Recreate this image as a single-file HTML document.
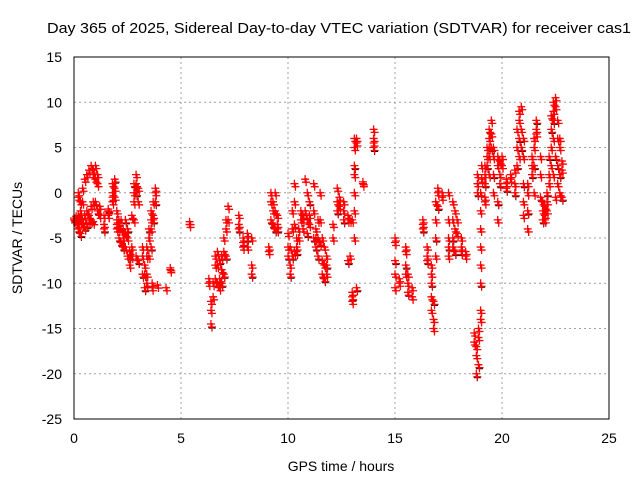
<!DOCTYPE html>
<html><head><meta charset="utf-8"><style>
body{margin:0;background:#fff;width:640px;height:480px;overflow:hidden}
svg{display:block;font-family:"Liberation Sans",sans-serif}
</style></head><body>
<svg id="chart" width="640" height="480">
<text x="339" y="33" text-anchor="middle" font-size="15" textLength="584" lengthAdjust="spacingAndGlyphs">Day 365 of 2025, Sidereal Day-to-day VTEC variation (SDTVAR) for receiver cas1</text>
<text x="341" y="471" text-anchor="middle" font-size="14">GPS time / hours</text>
<text transform="translate(22,238) rotate(-90)" text-anchor="middle" font-size="14">SDTVAR / TECUs</text>
<g id="grid"></g>
<g id="ticks"></g>
<g id="pts"></g>
<rect x="74" y="57" width="535" height="362" fill="none" stroke="#000" stroke-width="1"/>
</svg>
<script>
const xTicks=[0,5,10,15,20,25];
const yTicks=[15,10,5,0,-5,-10,-15,-20,-25];
const times=[0,0.1,0.2,0.3,0.4,0.5,0.6,0.7,0.8,0.9,1.0,1.1,1.2,1.4,1.6,1.8,1.9,2.0,2.1,2.2,2.3,2.4,2.5,2.6,2.7,2.8,2.9,3.0,3.2,3.3,3.4,3.5,3.6,3.7,3.8,3.65,3.9,4.3,4.5,5.4,6.3,6.4,6.5,6.6,6.7,6.8,6.9,7.0,7.1,7.2,7.7,7.9,8.1,8.3,9.1,9.2,9.3,9.4,9.5,10.0,10.1,10.2,10.3,10.4,10.5,10.6,10.7,10.8,10.9,11.0,11.2,11.3,11.4,11.5,11.6,11.7,11.8,12.1,12.3,12.4,12.6,12.8,12.9,13.0,13.1,13.2,13.5,14.0,15.0,15.2,15.5,15.6,15.8,16.3,16.5,16.7,16.8,16.9,17.0,17.2,17.5,17.7,17.8,17.9,18.1,18.3,18.7,18.8,18.9,19.0,18.85,19.05,19.2,19.3,19.4,19.5,19.6,19.8,19.9,20.0,20.2,20.4,20.6,20.7,20.8,20.9,21.0,21.2,21.4,21.5,21.6,21.8,21.9,22.0,22.1,22.2,22.3,22.4,22.5,22.6,22.7,22.8];
const values=[[-3,-2.8],[-3.2,-2.6],[-2.5,-3.5,-4,0,-0.5],[-1,-3,-4.5,-2],[0.5,-1,-3,-3.5],[1.5,-2.5,-3.8],[2,-2,-3.5],[2.5,-2.5,-3],[3,-1.5,-3],[2.5,2,-1,-3.2],[3,1.5,-1],[2,1,-2],[-1.5,-2.5],[-3.5,-2.5,-4],[-2.5,-2,-1.8],[-1,0,-0.5,1],[0.5,-0.5,1.5],[-2,-3,-3.5,-4],[-3,-4,-5],[-3,-4,-5.5],[-4,-5,-6],[-4.5,-6,-3],[-7,-5,-4],[-8,-6.5,-7],[-7,-6,-2.5],[0,-1,1,-3],[2,1,0,-7],[0.5,-1,-7.5],[-6,-7,-9],[-8,-9,-10.5],[-7,-9,-10,-6],[-5,-7,-4],[-3,-4,-6,-2],[-1,-2.5,-3],[0,0.5,-1],[-10,-10.5],[-10.2],[-10.5],[-8.3,-8.5],[-3.2,-3.5],[-9.5,-10],[-12,-13,-14.5],[-10,-11.5],[-7,-8,-9.5],[-6.5,-8,-10],[-9.5,-10.5,-7.5],[-7,-8.5,-10],[-5,-6.5,-9],[-3,-4,-7],[-1.5,-3],[-2.5,-3.5,-4],[-6,-5,-5.5],[-6,-4.5,-5],[-5,-8,-9],[-6.5,-6],[0,-1,-3],[-1,-2,-3.5],[0,-2,-4],[-2.5,-3.5,-4],[-4.5,-6,-7],[-6,-8,-9],[-2,-4,-7],[1,-1,-3.5,-6.5],[-5,-6,-6.5],[-4,-5],[-2,-3],[-3,-4,-2.5],[1.5,-2],[0,-3,-4.5],[-2.5,-3.5,-1],[1,-2,-5],[-4,-5,-6],[-3,-5,-7],[0,-3,-5.5],[-5,-7.5,-9],[-6,-8,-9.5],[-7,-9,-8],[-5,-3.5],[-1,0.5,-2],[-0.5,-1.5],[-2,-1,-3],[-3,-2.5,-7.5],[-7,-3],[-11,-12,-11.5,-3],[6,5,3,2,0,-2,-5],[5.5,6,-10.5],[1,1.2],[7,6,5,5.5],[-5,-5.5,-7.5,-9,-10.5],[-9.5,-10],[-6,-6.5,-8,-9],[-9,-10,-11],[-10.5,-11.5],[-3,-3.5,-4],[-6,-7,-7.5],[-8,-9,-10,-11.5,-13],[-14,-15,-12],[-1,-3,-5,-7],[0,0.5,-1.5],[0,-0.5],[0,-3,-6,-7,-5],[-1,-3,-5,-6],[-2,-4,-6.5],[-3,-4.5],[-5,-6,-6.5],[-6.5,-7],[-15.5,-16.5],[-17,-18,-20],[-15,-16,-19],[-14,-13,-10,-8,-6,-4,-2,0],[2,1,0],[3,1.5],[-1,-0.5,1,2,3],[4,5,3],[5,6,7,4,2],[8,6.5,5],[5,4,2,0],[4,3,-1,-3],[3.5,2,1],[4,3],[1.5,1,0.5],[2,1.5],[2.5,1,0],[5,7,3],[8,9,6,4],[9.5,7,5],[6,4,1,-1,-2.5],[1,0,-2,-4],[3,4,2],[6,5,3,0],[7,6.5,8],[4,2,-0.5],[-1,-2,-3],[-2,-2.5,-1.5,-3],[-2,-1,0],[1,2,4],[3,5,7,8.5],[9,10,8,6,2],[10.5,9.5,4,-0.5],[8,6,3,1],[6,5,2,0],[3.5,2.5,-0.5]];
const X0=74,X1=609,Y0=419,Y1=57;
const xs=t=>X0+(t-0)/25*(X1-X0);
const ys=v=>Y0-(v+25)/40*(Y0-Y1);
const NS='http://www.w3.org/2000/svg';
const grid=document.getElementById('grid'),ticks=document.getElementById('ticks'),pts=document.getElementById('pts');
function mk(tag,attrs,parent){const e=document.createElementNS(NS,tag);for(const k in attrs)e.setAttribute(k,attrs[k]);parent.appendChild(e);return e;}
xTicks.forEach(t=>{const x=xs(t);
 if(t>0&&t<25){const g=mk('line',{x1:x,x2:x,y1:Y1,y2:Y0,stroke:'#a0a0a0','stroke-dasharray':'2,3'},grid);
 
 }
 const l=mk('text',{x:x,y:443,'text-anchor':'middle','font-size':'14'},ticks);l.textContent=t;
 
 
});
yTicks.forEach(v=>{const y=ys(v);
 if(v>-25&&v<15){const g=mk('line',{x1:X0,x2:X1,y1:y,y2:y,stroke:'#a0a0a0','stroke-dasharray':'2,3'},grid);
 
 }
 const l=mk('text',{x:62,y:y+5,'text-anchor':'end','font-size':'14'},ticks);l.textContent=v;
 
 
});
let d='',db='';
times.forEach((t,i)=>{values[i].forEach((v,j)=>{const x=xs(t),y=ys(v);
 d+=`M${x-4},${y}h8M${x},${y-4}v8`;
 d+=`M${x-3},${y+3}h8M${x+1},${y-1}v8`;
 if(j%5===2)db+=`M${x-3.5+1},${y+4}h7M${x+1},${y+0.5}v7`;
});});
const pb=mk('path',{d:db,stroke:'#000','stroke-width':'1',fill:'none'},pts);


const p=mk('path',{d:d,stroke:'#ff0000','stroke-width':'1.3',fill:'none'},pts);


</script>
</body></html>
